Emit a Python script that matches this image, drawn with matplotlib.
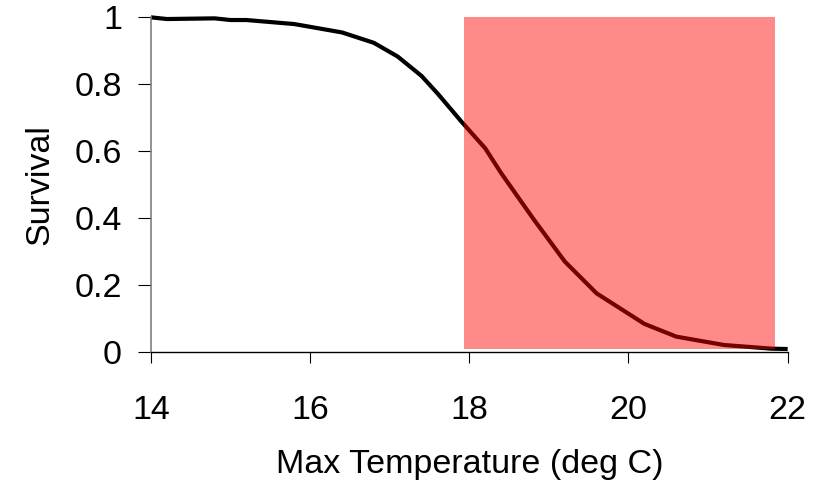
import matplotlib
matplotlib.use("Agg")
import matplotlib.pyplot as plt
from matplotlib.patches import Rectangle

temps = [14.0, 14.2, 14.8, 15.0, 15.2, 15.8, 16.4, 16.8, 17.1, 17.4, 17.6, 17.9,
         18.2, 18.4, 18.8, 19.2, 19.6, 20.2, 20.6, 21.2, 21.8, 22.0]
survival = [0.998, 0.993, 0.995, 0.990, 0.990, 0.978, 0.953, 0.922, 0.881, 0.823, 0.771, 0.687,
            0.607, 0.533, 0.398, 0.269, 0.174, 0.083, 0.045, 0.020, 0.009, 0.008]
band_x = [17.93, 21.84]
band_y = [0.007, 1.0]
x_ticks = [14, 16, 18, 20, 22]
y_ticks = [0, 0.2, 0.4, 0.6, 0.8, 1]
y_tick_labels = ["0", "0.2", "0.4", "0.6", "0.8", "1"]

plt.rcParams['font.family'] = ['Liberation Sans', 'DejaVu Sans']

fig = plt.figure(figsize=(8.21, 4.95), dpi=100)
ax = fig.add_axes([0.1839, 0.2895, 0.9594 - 0.1839, 0.9663 - 0.2895])

ax.plot(temps, survival, color='black', lw=3.0, solid_capstyle='butt', clip_on=False, zorder=2)
ax.add_patch(Rectangle((band_x[0], band_y[0]), band_x[1] - band_x[0], band_y[1] - band_y[0],
                       facecolor='#ff0000', alpha=0.46, edgecolor='none', zorder=3))

ax.set_xlim(14, 22)
ax.set_ylim(0, 1)
ax.set_xticks(x_ticks)
ax.set_yticks(y_ticks)
ax.set_yticklabels(y_tick_labels)

for s in ['top', 'right']:
    ax.spines[s].set_visible(False)
ax.spines['left'].set_color('#808080')
ax.spines['bottom'].set_color('black')
ax.spines['left'].set_linewidth(1.2)
ax.spines['bottom'].set_linewidth(1.0)

fs = 24.5
ax.tick_params(axis='y', direction='out', length=9.4, width=0.8, color='black', pad=11.5, labelsize=fs)
ax.tick_params(axis='x', direction='out', length=8, width=0.8, color='black', pad=23, labelsize=fs)

ax.set_xlabel('Max Temperature (deg C)', fontsize=fs, labelpad=17)
ax.set_ylabel('Survival', fontsize=fs, labelpad=14)

fig.savefig('out.png', dpi=100)
